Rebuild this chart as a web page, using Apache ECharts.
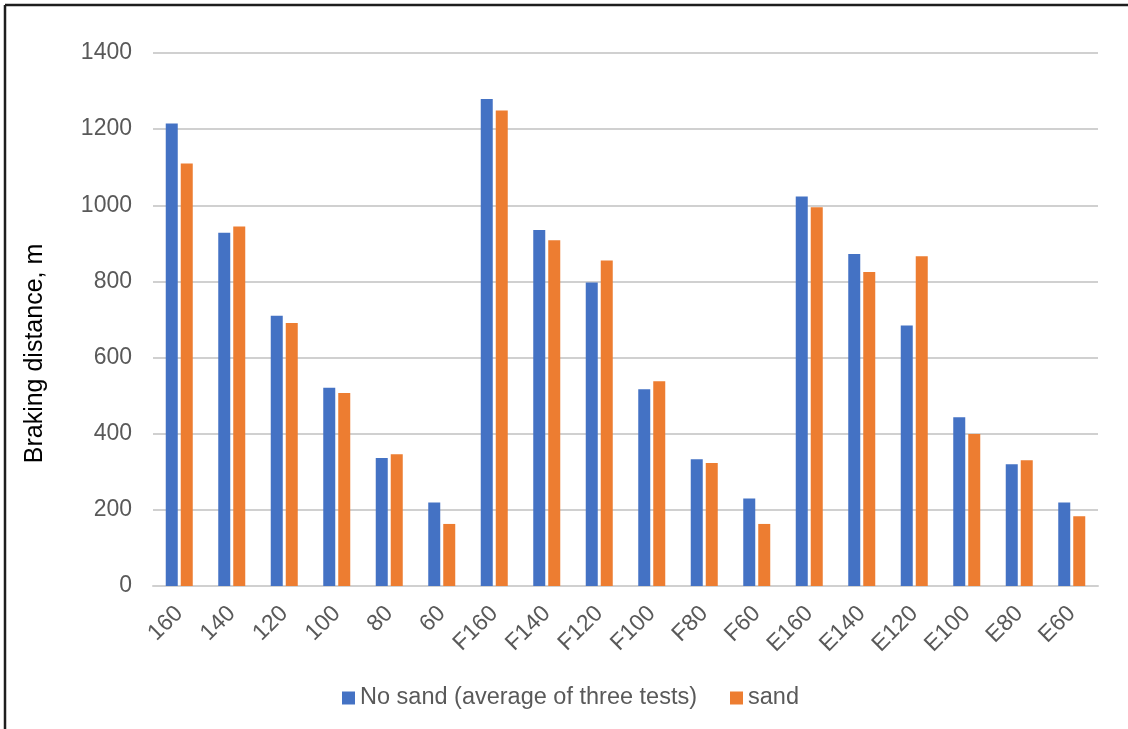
<!DOCTYPE html>
<html>
<head>
<meta charset="utf-8">
<title>Braking distance</title>
<script src="https://cdn.jsdelivr.net/npm/echarts@6/dist/echarts.min.js"></script>
<style>
  html, body { margin: 0; padding: 0; background: #ffffff; }
  #chart { width: 1128px; height: 729px; }
</style>
</head>
<body>
<div id="chart"></div>
<script>
// Test cases: plain speeds, then F- and E- prefixed runs
const categories = ['160', '140', '120', '100', '80', '60',
  'F160', 'F140', 'F120', 'F100', 'F80', 'F60',
  'E160', 'E140', 'E120', 'E100', 'E80', 'E60'];

// Braking distance in metres
const noSand = [1215, 928, 710, 521, 336, 219,
  1279, 935, 797, 517, 333, 230,
  1023, 872, 684, 443, 320, 219];
const sand = [1110, 944, 691, 507, 346, 163,
  1249, 908, 855, 538, 323, 163,
  995, 825, 866, 399, 330, 183];

const seriesNames = ['No sand (average of three tests)', 'sand'];
const yMin = 0, yMax = 1400, yStep = 200;

const FONT = "'Liberation Sans', Arial, sans-serif";
const GREY_TEXT = '#595959';
const GRID_LINE = '#d0d0d0';

const chart = echarts.init(document.getElementById('chart'));

chart.setOption({
  backgroundColor: '#ffffff',
  animation: false,
  textStyle: { fontFamily: FONT },
  grid: { left: 153, right: 30, top: 53, bottom: 143, containLabel: false },
  legend: {
    data: seriesNames,
    left: 337,
    top: 681,
    icon: 'rect',
    itemWidth: 13,
    itemHeight: 13,
    itemGap: 33,
    textStyle: { fontSize: 23.5, color: GREY_TEXT, fontFamily: FONT }
  },
  xAxis: {
    type: 'category',
    data: categories,
    axisTick: { show: false },
    axisLine: { lineStyle: { color: GRID_LINE, width: 2 } },
    axisLabel: {
      interval: 0,
      rotate: 45,
      margin: 24,
      fontSize: 23,
      color: GREY_TEXT,
      fontFamily: FONT
    }
  },
  yAxis: {
    type: 'value',
    min: yMin,
    max: yMax,
    interval: yStep,
    name: 'Braking distance, m',
    nameLocation: 'middle',
    nameGap: 105,
    nameRotate: 90,
    nameTextStyle: { fontSize: 25, color: '#000000', fontFamily: FONT, padding: [0, 68, 0, 0] },
    axisLine: { show: false },
    axisTick: { show: false },
    axisLabel: {
      margin: 21,
      fontSize: 23,
      color: GREY_TEXT,
      fontFamily: FONT,
      formatter: (v) => String(v)
    },
    splitLine: { lineStyle: { color: GRID_LINE, width: 2 } }
  },
  series: [
    {
      name: seriesNames[0],
      type: 'bar',
      data: noSand,
      barWidth: 12,
      barGap: '25%',
      itemStyle: { color: '#4472C4' }
    },
    {
      name: seriesNames[1],
      type: 'bar',
      data: sand,
      barWidth: 12,
      barGap: '25%',
      itemStyle: { color: '#ED7D31' }
    }
  ],
  graphic: [
    {
      type: 'line',
      shape: { x1: 5, y1: 5, x2: 1128, y2: 5 },
      style: { stroke: '#1e1e1e', lineWidth: 2.5 },
      silent: true
    },
    {
      type: 'line',
      shape: { x1: 5, y1: 5, x2: 5, y2: 729 },
      style: { stroke: '#1e1e1e', lineWidth: 2.5 },
      silent: true
    }
  ]
});
</script>
</body>
</html>
